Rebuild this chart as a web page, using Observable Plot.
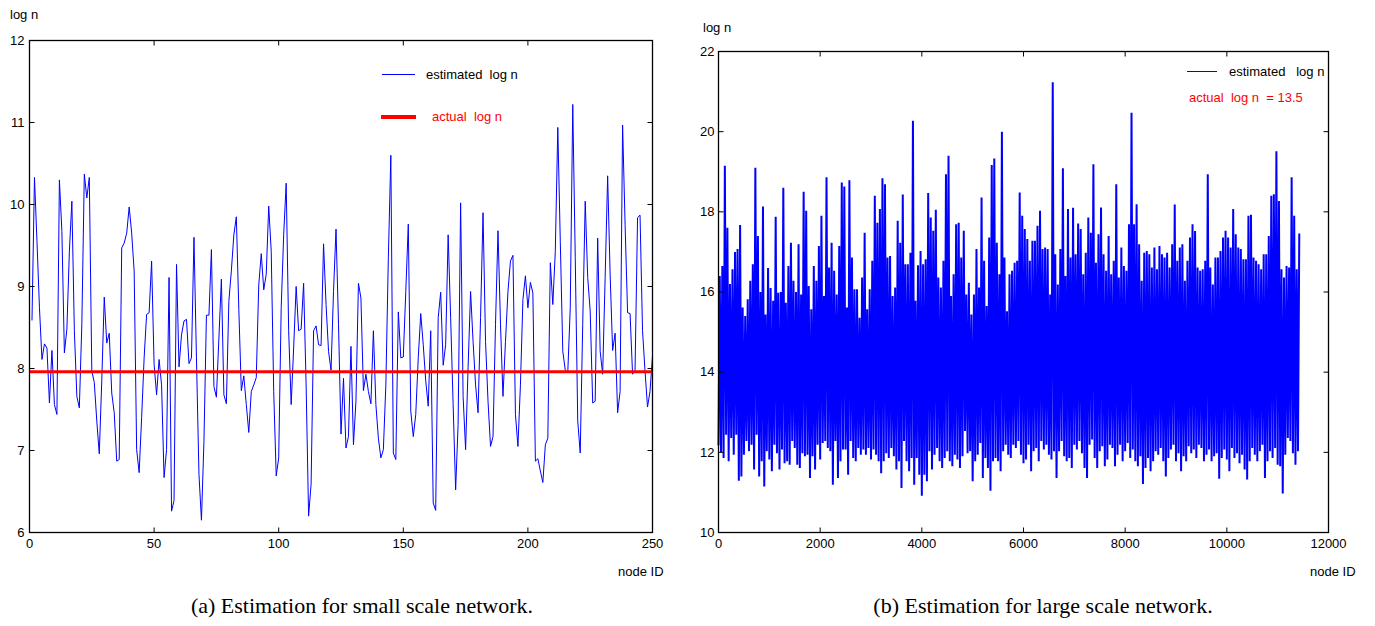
<!DOCTYPE html>
<html><head><meta charset="utf-8">
<script src="https://cdn.jsdelivr.net/npm/d3@7"></script>
<script src="https://cdn.jsdelivr.net/npm/@observablehq/plot@0.6"></script>
<style>
body{margin:0;background:#fff;}
#root{position:relative;width:1375px;height:626px;overflow:hidden;background:#fff;font-family:"Liberation Sans",Arial,sans-serif;}
#root svg{position:absolute;top:0;overflow:visible;}
.abs{position:absolute;white-space:pre;line-height:1;font-size:13px;color:#000;}
.cap{position:absolute;white-space:pre;line-height:1;font-family:"Liberation Serif","Times New Roman",serif;font-size:22px;color:#000;transform:translateX(-50%);}
.sw{position:absolute;}
</style></head><body><div id="root"></div>
<script>
// ---------- (a) small scale network: estimated log n for node IDs 1..250 ----------
const smallEstimated = [
8.59,10.33,9.55,8.74,8.11,8.30,8.25,7.58,8.22,7.56,
7.44,10.30,9.67,8.19,8.48,9.43,10.04,8.46,7.66,7.52,
8.54,10.37,10.08,10.33,7.97,7.83,7.36,6.96,7.85,8.87,
8.31,8.43,7.70,7.46,6.87,6.89,9.47,9.53,9.65,9.97,
9.65,9.19,7.01,6.73,7.40,8.13,8.66,8.68,9.31,8.05,
7.68,8.11,7.80,6.67,7.01,9.11,6.26,6.39,9.27,8.02,
8.41,8.58,8.60,8.06,8.13,9.60,8.13,6.71,6.15,7.11,
8.65,8.65,9.45,7.78,7.65,8.37,9.09,7.68,7.57,8.82,
9.19,9.63,9.85,8.72,7.73,7.91,7.56,7.22,7.72,7.80,
7.89,9.02,9.40,8.96,9.15,9.98,9.43,7.72,6.69,6.91,
8.74,9.63,10.26,8.46,7.56,8.25,9.00,8.46,8.48,9.04,
7.80,6.20,6.59,8.46,8.52,8.29,8.28,9.52,8.78,8.21,
7.98,8.94,9.70,8.54,7.20,7.88,7.03,7.17,8.27,7.07,
7.60,9.04,8.86,7.73,7.93,7.72,7.57,8.46,7.56,7.15,
6.91,7.01,7.80,9.35,10.60,6.97,6.89,8.69,8.13,8.14,
8.94,9.76,7.48,7.17,7.44,8.13,8.67,8.29,7.85,7.54,
8.46,6.36,6.27,8.62,8.93,8.04,8.29,9.63,8.62,7.56,
6.52,7.32,10.02,7.66,7.01,8.01,8.94,8.33,7.80,7.46,
8.62,9.90,8.33,7.60,7.05,7.17,8.54,9.68,8.54,7.66,
8.33,8.94,9.31,9.38,7.44,7.05,7.80,8.84,9.13,8.74,
9.05,8.92,6.87,6.90,6.75,6.61,7.07,7.15,9.29,8.78,
9.43,10.94,9.55,8.21,7.98,7.95,8.74,11.22,9.35,7.36,
6.97,8.54,10.04,9.11,8.70,7.58,7.60,9.59,8.21,7.93,
9.11,10.35,9.15,8.22,8.43,7.46,7.72,10.97,9.76,8.68,
8.67,7.93,7.98,9.84,9.87,8.46,7.97,7.53,7.72,8.15
];
const smallActual = 7.96;
const smallXTicks = [0, 50, 100, 150, 200, 250];
const smallYTicks = [6, 7, 8, 9, 10, 11, 12];

// ---------- (b) large scale network: per 50-node bin, highest / lowest estimate ----------
const largeBin = 50;
const largeHigh = [
16.4,16.65,19.15,17.6,16.2,16.57,17.0,17.07,17.67,15.61,
15.4,15.82,16.28,16.69,19.1,17.4,16.0,18.13,15.44,16.6,
16.1,15.78,17.88,15.98,16.0,18.6,15.73,16.65,17.23,16.28,
16.0,17.19,15.94,18.5,18.03,16.15,15.57,16.65,16.28,17.15,
17.9,15.9,18.86,16.61,17.23,16.53,15.94,17.15,18.73,18.63,
15.61,18.79,16.86,16.07,16.07,15.36,16.36,17.48,15.57,16.07,
16.78,18.4,17.73,18.07,18.84,18.69,16.86,16.9,15.9,16.11,
17.78,17.23,18.43,16.69,16.69,16.98,20.27,15.78,16.67,17.02,
16.69,16.82,18.47,17.86,17.53,18.05,16.36,16.11,16.78,18.94,
19.4,15.9,16.44,17.69,17.73,16.86,17.53,15.94,16.23,15.44,
15.94,17.07,16.11,18.36,16.78,15.65,17.36,19.17,19.33,17.23,
16.44,20.0,16.86,15.52,16.44,16.53,16.73,16.78,18.48,17.9,
17.57,17.32,16.78,17.28,17.28,17.65,18.03,17.07,17.11,17.07,
15.94,21.23,16.94,16.19,17.07,19.09,16.4,18.07,16.86,18.1,
16.94,17.71,17.57,16.44,16.98,17.86,17.48,19.19,16.73,17.44,
18.11,16.94,16.53,17.4,16.44,16.78,18.69,16.36,17.11,16.65,
16.53,17.69,20.47,17.69,18.19,17.19,16.28,16.98,17.02,16.94,
16.61,17.11,16.57,17.15,16.94,16.86,16.98,16.61,17.19,18.18,
16.78,17.11,17.19,16.28,16.78,17.36,17.69,17.52,16.61,16.53,
16.57,16.78,18.94,16.61,16.19,16.86,16.86,17.02,17.36,17.53,
17.36,17.11,18.07,17.44,17.11,17.07,16.82,16.82,17.9,17.93,
16.86,16.78,16.69,16.57,16.94,16.94,17.4,18.4,18.44,19.51,
18.27,16.57,16.36,16.65,16.61,18.86,17.9,16.57,17.44
];
const largeLow = [
12.19,12.0,11.86,12.44,11.78,12.36,11.94,12.44,11.29,11.4,
11.94,12.28,12.03,12.19,11.57,12.44,11.4,11.78,11.15,12.03,
11.82,11.53,12.19,11.98,11.57,12.07,11.73,11.78,11.69,12.28,
12.11,11.69,11.61,11.98,11.9,11.94,11.36,11.9,11.57,12.19,
11.82,12.23,12.28,12.11,12.03,11.19,12.28,11.36,11.78,12.07,
12.07,11.44,12.28,11.86,11.78,12.11,11.94,12.07,11.94,12.11,
11.82,12.07,11.94,11.78,11.48,11.78,11.98,11.86,12.11,11.9,
11.57,11.78,11.11,12.28,11.78,11.53,11.86,11.19,11.86,11.44,
10.92,11.44,11.28,12.03,11.57,11.94,12.11,11.78,11.61,11.86,
12.03,11.78,11.65,11.94,11.82,11.61,11.9,12.53,11.98,12.03,
11.28,11.78,11.94,12.23,11.36,11.86,11.61,11.04,11.78,11.86,
11.78,11.53,12.03,12.19,11.94,11.86,12.19,12.11,12.28,11.94,
11.73,11.82,12.19,11.53,12.03,12.11,11.78,12.28,12.07,12.19,
11.94,11.82,12.03,11.36,12.03,12.28,11.9,11.78,11.86,11.61,
12.19,12.07,12.28,11.98,11.61,11.36,12.19,12.32,11.86,11.61,
12.03,12.15,11.65,11.82,12.19,12.11,11.65,11.94,12.19,11.78,
12.03,12.23,11.86,12.07,11.78,11.65,11.9,11.21,11.61,11.86,
11.53,11.78,12.03,11.94,12.11,11.78,11.4,11.86,12.07,12.19,
11.78,11.98,11.53,11.9,11.78,12.15,11.98,12.07,11.86,12.19,
12.11,11.78,11.94,12.07,11.78,11.9,11.98,11.34,11.86,12.07,
11.82,11.53,12.11,11.86,11.98,11.73,11.94,11.57,11.32,11.78,
12.11,11.94,11.78,12.03,12.19,11.36,11.78,12.03,11.86,12.11,
11.69,11.65,10.97,11.94,12.36,12.28,11.98,11.69,12.03
];
const largeActualText = "actual  log n  = 13.5";
const largeXTicks = [0, 2000, 4000, 6000, 8000, 10000, 12000];
const largeYTicks = [10, 12, 14, 16, 18, 20, 22];

// ---------- helpers ----------
const root = document.getElementById("root");
const plainFormat = d => String(d);
function innerTicks(xTicks, yTicks, xDom, yDom, fw, fh, len) {
  const dx = len * (xDom[1] - xDom[0]) / fw;
  const dy = len * (yDom[1] - yDom[0]) / fh;
  const segs = [];
  xTicks.filter(t => t > xDom[0] && t < xDom[1]).forEach(t => {
    segs.push({x1: t, x2: t, y1: yDom[0], y2: yDom[0] + dy});
    segs.push({x1: t, x2: t, y1: yDom[1], y2: yDom[1] - dy});
  });
  yTicks.filter(t => t > yDom[0] && t < yDom[1]).forEach(t => {
    segs.push({x1: xDom[0], x2: xDom[0] + dx, y1: t, y2: t});
    segs.push({x1: xDom[1], x2: xDom[1] - dx, y1: t, y2: t});
  });
  return Plot.link(segs, {x1: "x1", x2: "x2", y1: "y1", y2: "y2", stroke: "black", strokeWidth: 1});
}
function addText(txt, left, top, color, cls) {
  const d = document.createElement("div");
  d.className = cls || "abs";
  d.textContent = txt;
  d.style.left = left + "px"; d.style.top = top + "px";
  if (color) d.style.color = color;
  root.appendChild(d);
}
function addSwatch(left, top, w, h, color) {
  const d = document.createElement("div");
  d.className = "sw";
  d.style.cssText = `left:${left}px;top:${top}px;width:${w}px;height:${h}px;background:${color};`;
  root.appendChild(d);
}
const plotStyle = {fontFamily: "'Liberation Sans', Arial, sans-serif", fontSize: "13px", background: "transparent", color: "black", overflow: "visible"};

// ---------- chart (a) ----------
const smallData = smallEstimated.map((v, i) => ({node: i + 1, est: v}));
const aML = 29, aMT = 40, aFW = 623, aFH = 492;
const chartA = Plot.plot({
  width: aML + aFW + 23, height: aMT + aFH + 40,
  marginLeft: aML, marginRight: 23, marginTop: aMT, marginBottom: 40,
  x: {domain: [0, 250]}, y: {domain: [6, 12]},
  style: plotStyle,
  marks: [
    Plot.line(smallData, {x: "node", y: "est", stroke: "#0000ff", strokeWidth: 1}),
    Plot.ruleY([smallActual], {stroke: "#ff0000", strokeWidth: 3}),
    innerTicks(smallXTicks, smallYTicks, [0, 250], [6, 12], aFW, aFH, 5),
    Plot.frame({stroke: "black", strokeWidth: 1.3}),
    Plot.axisX(smallXTicks, {tickSize: 0, tickPadding: 6, label: null, tickFormat: plainFormat}),
    Plot.axisY(smallYTicks, {tickSize: 0, tickPadding: 5, label: null, tickFormat: plainFormat})
  ]
});
chartA.style.left = "0px";
root.appendChild(chartA);

// ---------- chart (b) ----------
const largeData = [];
largeHigh.forEach((h, b) => {
  largeData.push({node: b * largeBin, est: largeLow[b]});
  largeData.push({node: b * largeBin + largeBin / 2, est: h});
});
const bML = 28, bMT = 51, bFW = 610, bFH = 481;
const chartB = Plot.plot({
  width: bML + bFW + 30, height: bMT + bFH + 40,
  marginLeft: bML, marginRight: 30, marginTop: bMT, marginBottom: 40,
  x: {domain: [0, 12000]}, y: {domain: [10, 22]},
  style: plotStyle,
  marks: [
    Plot.line(largeData, {x: "node", y: "est", stroke: "#0000ff", strokeWidth: 2, strokeLinejoin: "miter", strokeMiterlimit: 1}),
    innerTicks(largeXTicks, largeYTicks, [0, 12000], [10, 22], bFW, bFH, 5),
    Plot.frame({stroke: "black", strokeWidth: 1.3}),
    Plot.axisX(largeXTicks, {tickSize: 0, tickPadding: 6, label: null, tickFormat: plainFormat}),
    Plot.axisY(largeYTicks, {tickSize: 0, tickPadding: 4, label: null, tickFormat: plainFormat})
  ]
});
chartB.style.left = "690px";
root.appendChild(chartB);

// ---------- labels, legends, captions ----------
addText("log n", 10, 8);
addText("log n", 703, 21);
addText("node ID", 618, 565);
addText("node ID", 1310, 565);

addSwatch(382, 74, 33, 1, "#0000ff");
addText("estimated  log n", 426, 68);
addSwatch(381, 115, 35, 4, "#ff0000");
addText("actual  log n", 432, 110, "#ff0000");

addSwatch(1187, 71, 30, 1, "#0000ff");
addText("estimated   log n", 1229, 65);
addText(largeActualText, 1189, 91, "#ff0000");

addText("(a) Estimation for small scale network.", 362, 595, null, "cap");
addText("(b) Estimation for large scale network.", 1043, 595, null, "cap");
</script>
</body></html>
